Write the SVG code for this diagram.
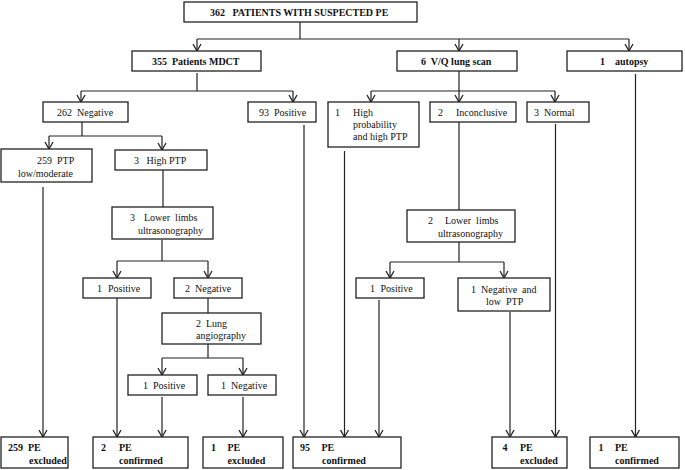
<svg xmlns="http://www.w3.org/2000/svg" width="685" height="470" viewBox="0 0 685 470">
<defs>
<style>
rect{fill:#fff;stroke:#222;stroke-width:1.3}
text{font-family:"Liberation Serif","Times New Roman",serif;font-size:10px;fill:#111}
.b{font-weight:bold}
.c{text-anchor:middle}
#connectors line,#connectors path{stroke:#222;stroke-width:1.2;fill:none}
.a{marker-end:url(#arr)}
</style>
<marker id="arr" markerUnits="userSpaceOnUse" markerWidth="10" markerHeight="10" viewBox="0 0 10 10" refX="9" refY="5" orient="auto">
<path d="M2,1 L9,5 L2,9" fill="none" stroke="#222" stroke-width="1.3"/>
</marker>
</defs>
<rect x="0" y="0" width="685" height="470" style="fill:#fff;stroke:none"/>

<g id="connectors">
<line x1="300" y1="22" x2="300" y2="39"/>
<line x1="197" y1="39" x2="629" y2="39"/>
<line class="a" x1="197" y1="39" x2="197" y2="51"/>
<line class="a" x1="459" y1="39" x2="459" y2="51"/>
<line class="a" x1="629" y1="39" x2="629" y2="51"/>

<line x1="197" y1="73" x2="197" y2="91"/>
<line x1="81" y1="91" x2="293" y2="91"/>
<line class="a" x1="81" y1="91" x2="81" y2="102"/>
<line class="a" x1="293" y1="91" x2="293" y2="102"/>

<line class="a" x1="459" y1="71" x2="459" y2="102"/>
<line x1="371" y1="91" x2="555" y2="91"/>
<line class="a" x1="371" y1="91" x2="371" y2="102"/>
<line class="a" x1="555" y1="91" x2="555" y2="102"/>

<line x1="82" y1="122" x2="82" y2="136"/>
<line x1="49" y1="136" x2="162" y2="136"/>
<line class="a" x1="49" y1="136" x2="49" y2="149"/>
<line class="a" x1="162" y1="136" x2="162" y2="150"/>

<line class="a" x1="43" y1="187" x2="43" y2="437"/>
<line x1="163" y1="170" x2="163" y2="207"/>
<line x1="162" y1="240" x2="162" y2="261"/>
<line x1="117" y1="261" x2="208" y2="261"/>
<line class="a" x1="117" y1="261" x2="117" y2="278"/>
<line class="a" x1="208" y1="261" x2="208" y2="278"/>
<line class="a" x1="117" y1="298" x2="117" y2="437"/>
<line x1="208" y1="298" x2="208" y2="313"/>
<line x1="208" y1="344" x2="208" y2="358"/>
<line x1="162" y1="358" x2="243" y2="358"/>
<line class="a" x1="162" y1="358" x2="162" y2="375"/>
<line class="a" x1="243" y1="358" x2="243" y2="375"/>
<line class="a" x1="162" y1="397" x2="162" y2="437"/>
<line class="a" x1="243" y1="397" x2="243" y2="437"/>

<line class="a" x1="304" y1="125" x2="304" y2="437"/>
<line class="a" x1="344.5" y1="151" x2="344.5" y2="437"/>
<line x1="459" y1="122" x2="459" y2="210"/>
<line x1="459" y1="242" x2="459" y2="262"/>
<line x1="390" y1="262" x2="504" y2="262"/>
<line class="a" x1="390" y1="262" x2="390" y2="278"/>
<line class="a" x1="504" y1="262" x2="504" y2="278"/>
<line class="a" x1="379" y1="300" x2="379" y2="437"/>
<line class="a" x1="510" y1="312" x2="510" y2="437"/>
<line class="a" x1="555.5" y1="124" x2="555.5" y2="437"/>
<line class="a" x1="635.5" y1="74" x2="635.5" y2="437"/>
</g>

<g id="top"><rect x="184" y="2" width="233" height="20"/><text class="b" x="210" y="15.5" xml:space="preserve">362   PATIENTS WITH SUSPECTED PE</text></g>
<g id="mdct"><rect x="132" y="51" width="129" height="20"/><text class="b" x="152" y="64.5" xml:space="preserve">355  Patients MDCT</text></g>
<g id="vq"><rect x="397" y="51" width="120" height="20"/><text class="b" x="421" y="64.5" xml:space="preserve">6  V/Q lung scan</text></g>
<g id="autopsy"><rect x="567" y="51" width="115" height="20"/><text class="b" x="600" y="64.5" xml:space="preserve">1    autopsy</text></g>

<g id="neg262"><rect x="43" y="102" width="85" height="20"/><text x="57" y="115.5" xml:space="preserve">262  Negative</text></g>
<g id="pos93"><rect x="248" y="102" width="68" height="20"/><text x="259" y="115.5" xml:space="preserve">93  Positive</text></g>
<g id="highprob"><rect x="328" y="102" width="91" height="45"/><text x="335" y="116">1</text><text x="353" y="116">High</text><text x="353" y="128">probability</text><text x="353" y="140">and high PTP</text></g>
<g id="incon"><rect x="430" y="102" width="86" height="20"/><text x="438" y="115.5">2</text><text x="456" y="115.5">Inconclusive</text></g>
<g id="normal"><rect x="527" y="102" width="62" height="20"/><text x="534" y="115.5" xml:space="preserve">3  Normal</text></g>

<g id="ptp259"><rect x="1" y="149" width="91" height="33"/><text x="37" y="163.5" xml:space="preserve">259  PTP</text><text x="18" y="176.5">low/moderate</text></g>
<g id="highptp"><rect x="115" y="150" width="92" height="20"/><text x="134" y="163.5">3</text><text x="146.5" y="163.5">High PTP</text></g>
<g id="ll3"><rect x="112" y="207" width="101" height="32"/><text x="130" y="221">3</text><text x="144" y="221" xml:space="preserve">Lower  limbs</text><text x="138" y="233.5">ultrasonography</text></g>
<g id="pos1a"><rect x="83" y="278" width="68" height="20"/><text x="97" y="291.5">1</text><text x="108" y="291.5">Positive</text></g>
<g id="neg2"><rect x="174" y="278" width="68" height="20"/><text x="185" y="291.5" xml:space="preserve">2  Negative</text></g>
<g id="lung2"><rect x="162" y="313" width="99" height="31"/><text x="196" y="327" xml:space="preserve">2  Lung</text><text x="196" y="339">angiography</text></g>
<g id="pos1b"><rect x="128" y="375" width="69" height="20"/><text x="143" y="388.5" xml:space="preserve">1  Positive</text></g>
<g id="neg1b"><rect x="208" y="375" width="68" height="20"/><text x="221" y="388.5" xml:space="preserve">1  Negative</text></g>

<g id="ll2"><rect x="407" y="210" width="108" height="32"/><text x="428" y="224">2</text><text x="445" y="224" xml:space="preserve">Lower  limbs</text><text x="438" y="236.5">ultrasonography</text></g>
<g id="pos1c"><rect x="356" y="278" width="68" height="20"/><text x="370" y="291.5">1</text><text x="380.5" y="291.5">Positive</text></g>
<g id="negLow"><rect x="458" y="278" width="92" height="33"/><text x="471" y="292.5" xml:space="preserve">1  Negative  and</text><text x="486" y="304.5" xml:space="preserve">low  PTP</text></g>

<g id="b1"><rect x="1" y="437" width="67" height="31"/><text class="b" x="8" y="451">259</text><text class="b" x="28" y="451">PE</text><text class="b" x="29" y="464">excluded</text></g>
<g id="b2"><rect x="93" y="437" width="95" height="31"/><text class="b" x="101" y="451">2</text><text class="b" x="119" y="451">PE</text><text class="b" x="119" y="464">confirmed</text></g>
<g id="b3"><rect x="203" y="437" width="80" height="31"/><text class="b" x="211" y="451">1</text><text class="b" x="227.5" y="451">PE</text><text class="b" x="227.5" y="464">excluded</text></g>
<g id="b4"><rect x="293" y="437" width="108" height="31"/><text class="b" x="300" y="451">95</text><text class="b" x="321.5" y="451">PE</text><text class="b" x="322" y="464">confirmed</text></g>
<g id="b5"><rect x="492" y="437" width="75" height="31"/><text class="b" x="502.5" y="451">4</text><text class="b" x="520" y="451">PE</text><text class="b" x="520" y="464">excluded</text></g>
<g id="b6"><rect x="590" y="437" width="89" height="31"/><text class="b" x="598.5" y="451">1</text><text class="b" x="615" y="451">PE</text><text class="b" x="615" y="464">confirmed</text></g>
</svg>
